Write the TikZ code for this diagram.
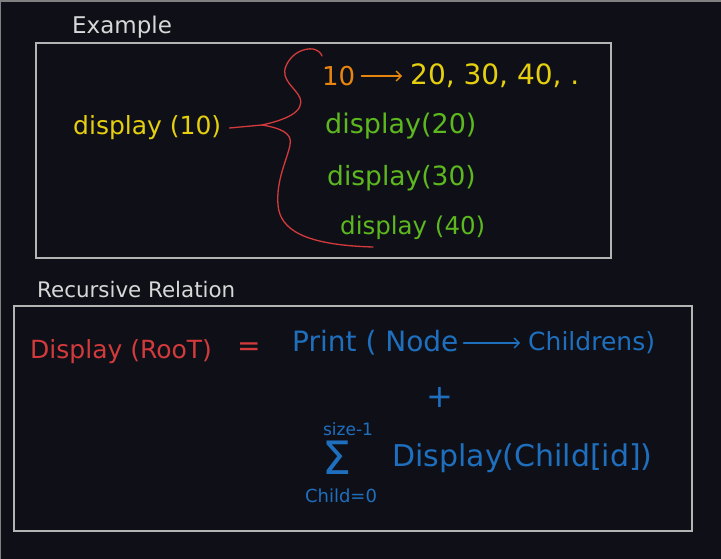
\documentclass[tikz,border=0pt]{standalone}
\usepackage{fontspec}
\setmainfont{DejaVu Sans}
\usetikzlibrary{arrows.meta}
\definecolor{bg}{HTML}{0F1017}
\definecolor{framegray}{HTML}{B4B4B4}
\definecolor{hwhite}{HTML}{D8D8D8}
\definecolor{hyellow}{HTML}{E5CF0E}
\definecolor{hgreen}{HTML}{5CB81E}
\definecolor{horange}{HTML}{E8850F}
\definecolor{hred}{HTML}{D33A3C}
\definecolor{hblue}{HTML}{1F6FBF}
\tikzset{
  hand/.style={inner sep=0pt, anchor=west, font=\fontsize{#1}{#1}\selectfont},
  hand/.default=24,
  frame/.style={draw=framegray, line width=1.3pt},
  pen/.style={line width=1.3pt, line cap=round}
}
\begin{document}
\begin{tikzpicture}[x=1pt,y=-1pt]
\useasboundingbox (0,0) rectangle (721,559);
\fill[bg] (0,0) rectangle (721,559);
\draw[gray,line width=1.5pt] (0,559) -- (0,1) -- (721,1);
\draw[frame] (36,43) rectangle (611,258);
\draw[frame] (14,306) rectangle (692,531);

\node[hand=23,text=hwhite] (lblexample) at (72,27) {Example};
\node[hand=25,text=hyellow] (disp10) at (73,128) {display (10)};
\node[hand=26,text=horange] (ten) at (322,76) {10};
\node[hand=28,text=hyellow] (rest) at (410,76) {20, 30, 40, .};
\node[hand=27,text=hgreen] (disp20) at (325,126) {display(20)};
\node[hand=26.5,text=hgreen] (disp30) at (327,178) {display(30)};
\node[hand=24.5,text=hgreen] (disp40) at (340,228) {display (40)};
\draw[pen,horange,-{Straight Barb[length=5pt]},shorten <=6pt,shorten >=8pt] (ten) -- (rest);

\coordinate (tip) at (262,125);
\draw[pen,hred] (disp10.east) ++(8,0) -- (tip);
\draw[pen,hred] (tip) .. controls (285,120) and (305,112) .. (300,98)
  .. controls (296,88) and (280,80) .. (286,66)
  .. controls (292,52) and (305,48) .. (313,49)
  .. controls (318,50) and (321,53) .. (322,56);
\draw[pen,hred] (tip) .. controls (280,128) and (293,133) .. (290,145)
  .. controls (287,160) and (276,180) .. (278,205)
  .. controls (280,230) and (305,245) .. (373,247);

\node[hand=21.4,text=hwhite] (lblrel) at (37,290) {Recursive Relation};
\node[hand=25,text=hred] (disproot) at (30,352) {Display (RooT)};
\node[hand=28,text=hred] (eq) at (237,349) {=};
\node[hand=28,text=hblue] (printnode) at (292,343) {Print ( Node};
\node[hand=25,text=hblue] (childs) at (528,343) {Childrens)};
\draw[pen,hblue,-{Straight Barb[length=5pt]},shorten <=5pt,shorten >=8pt] (printnode) -- (childs);
\node[hand=32,text=hblue,anchor=center] (plus) at (440,397) {+};
\node[hand=46,text=hblue,anchor=center,text height=33.5pt,text depth=0pt] (sigma) at (337,458) {Σ};
\node[hand=17,text=hblue,anchor=center] (upper) at (348,429) {size-1};
\node[hand=18,text=hblue,anchor=center] (lower) at (341,496) {Child=0};
\node[hand=30,text=hblue] (dispchild) at (392,458) {Display(Child[id])};
\end{tikzpicture}
\end{document}
